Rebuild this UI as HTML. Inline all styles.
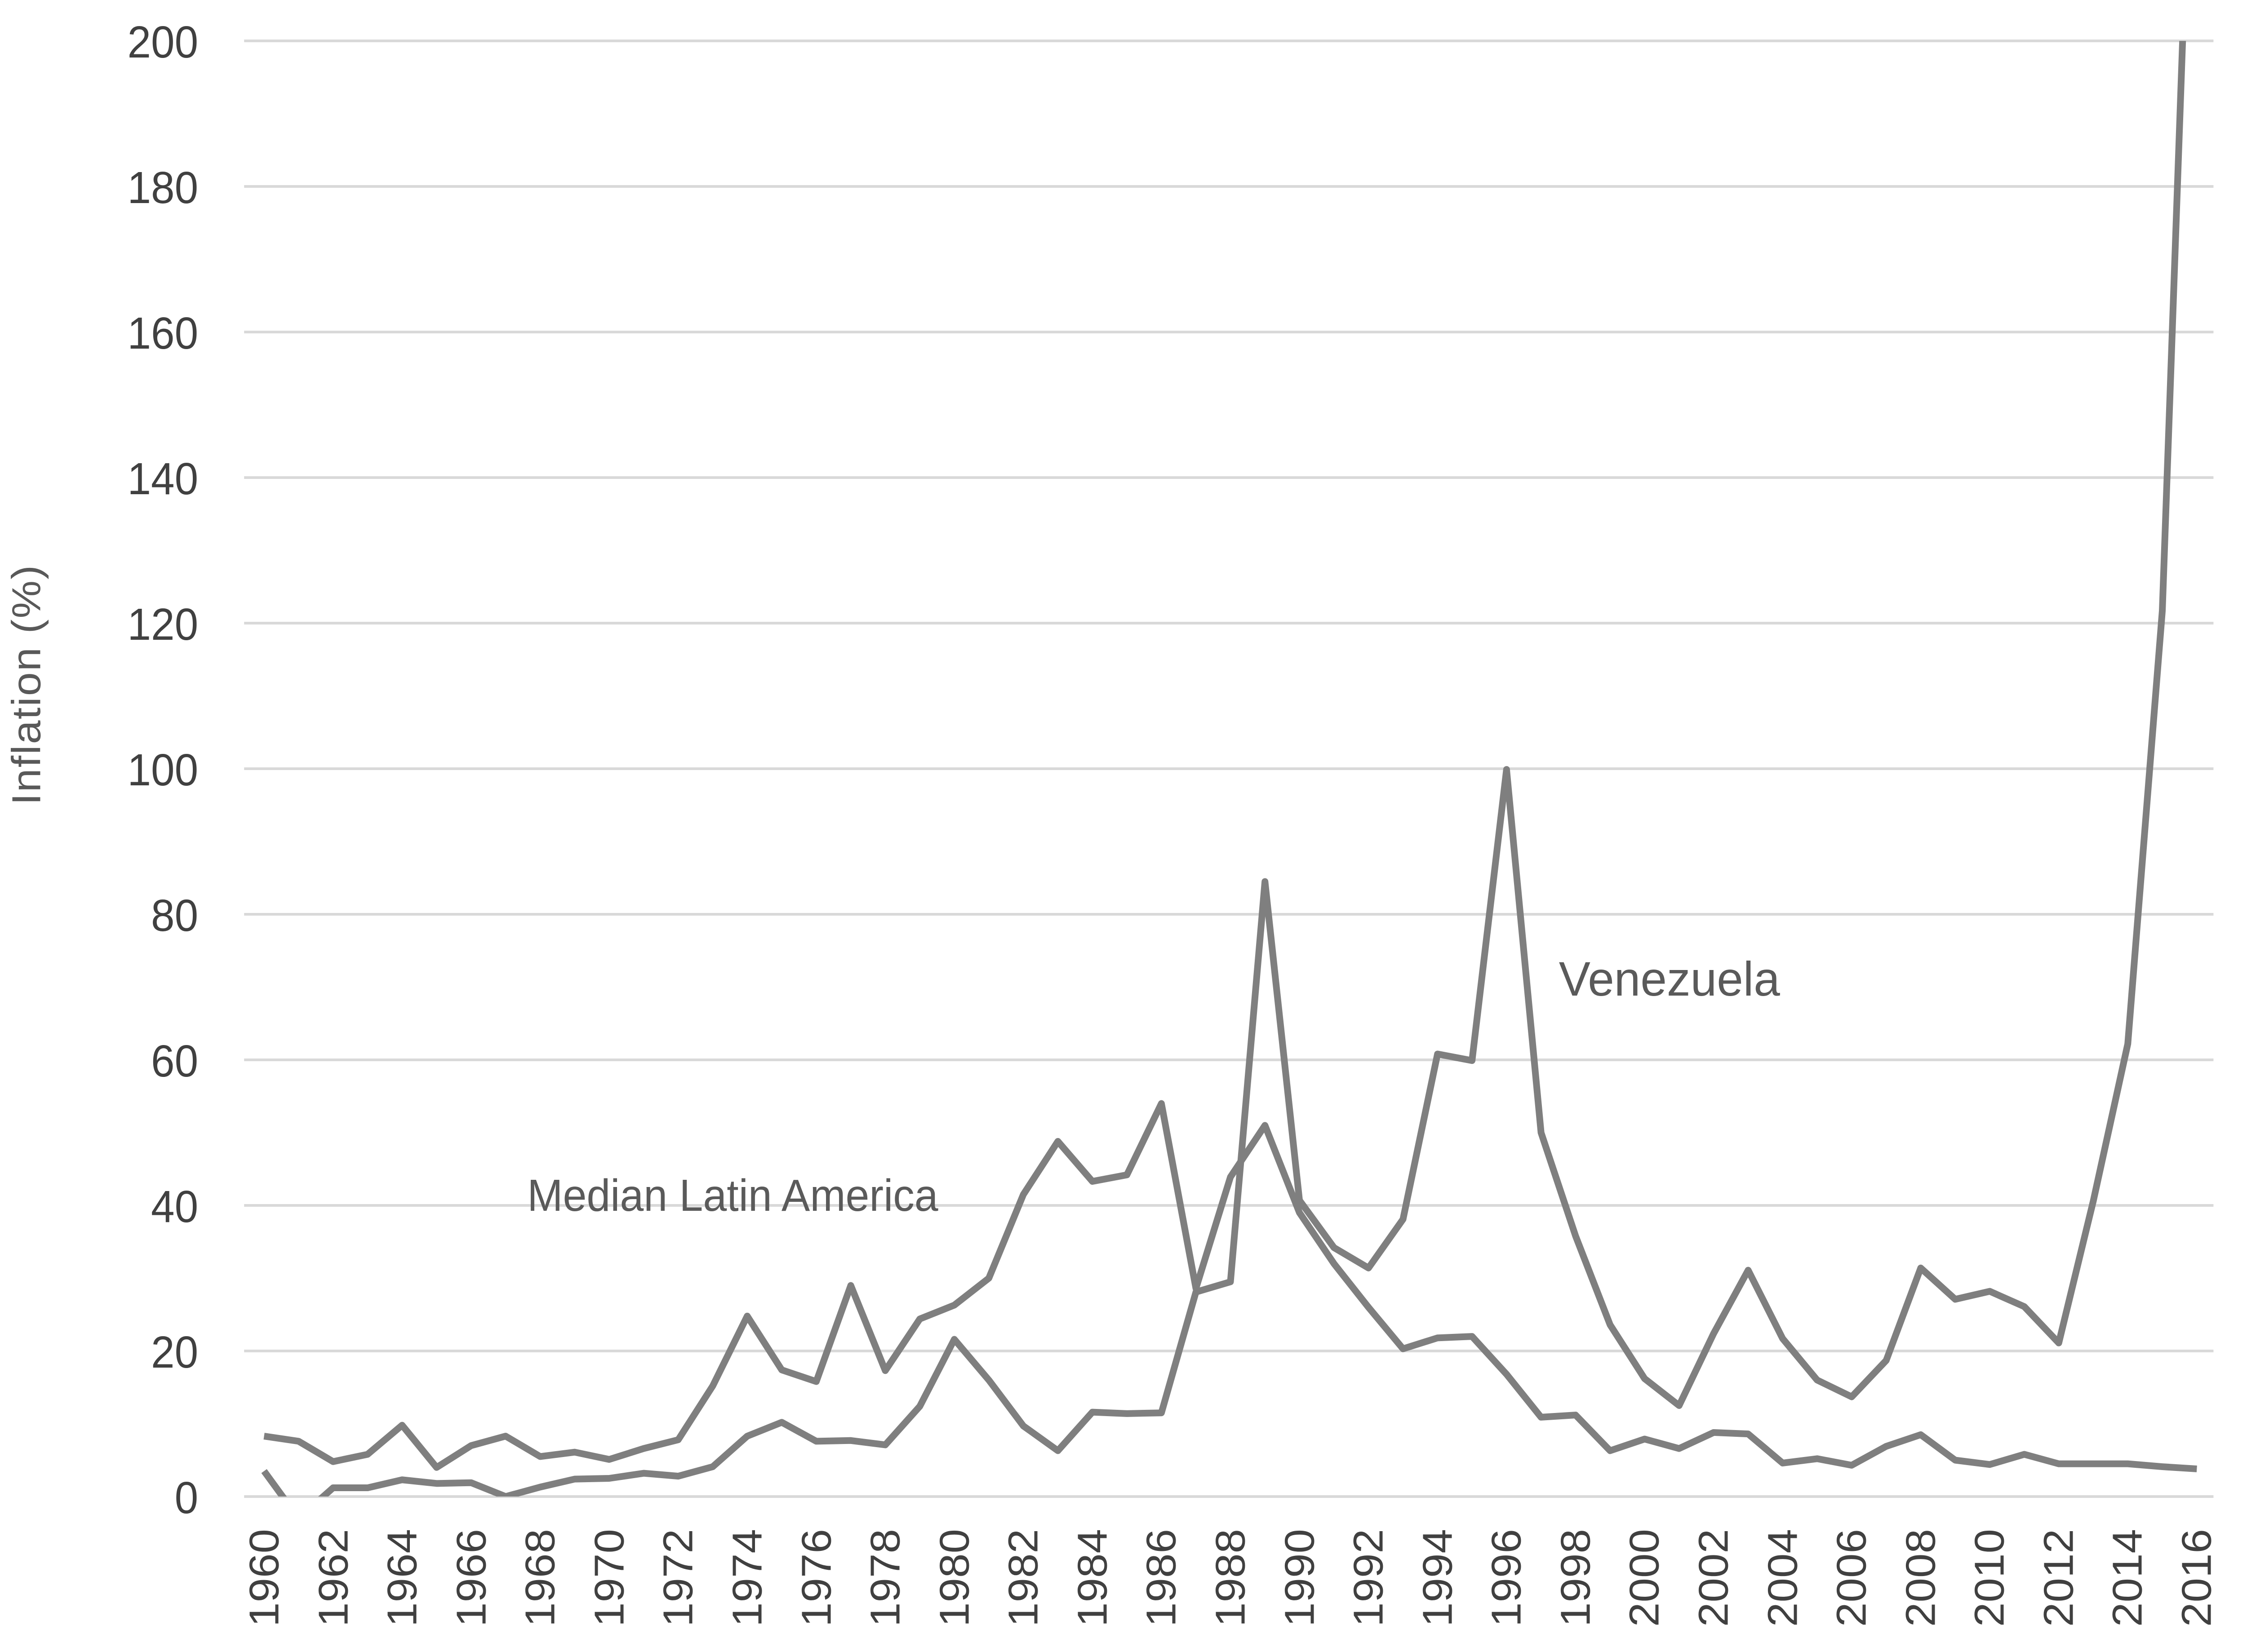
<!DOCTYPE html>
<html><head><meta charset="utf-8"><style>html,body{margin:0;padding:0;background:#fff;overflow:hidden;width:100vw;height:100vh}svg{display:block;width:100vw;height:100vh}</style></head>
<body>
<svg viewBox="0 0 5293 3677" preserveAspectRatio="none" xmlns="http://www.w3.org/2000/svg" font-family="'Liberation Sans', sans-serif">
<rect width="5293" height="3677" fill="#fff"/>
<g stroke="#d9d9d9" stroke-width="6">
<line x1="575" x2="5214" y1="91" y2="91"/><line x1="575" x2="5214" y1="415" y2="415"/>
<line x1="575" x2="5214" y1="739" y2="739"/><line x1="575" x2="5214" y1="1063" y2="1063"/>
<line x1="575" x2="5214" y1="1387" y2="1387"/><line x1="575" x2="5214" y1="1711" y2="1711"/>
<line x1="575" x2="5214" y1="2035" y2="2035"/><line x1="575" x2="5214" y1="2359" y2="2359"/>
<line x1="575" x2="5214" y1="2683" y2="2683"/><line x1="575" x2="5214" y1="3007" y2="3007"/>
<line x1="575" x2="5214" y1="3331" y2="3331"/>
</g>
<g fill="#404040" font-size="100" text-anchor="end">
<text x="467" y="128">200</text><text x="467" y="452">180</text><text x="467" y="776">160</text>
<text x="467" y="1100">140</text><text x="467" y="1424">120</text><text x="467" y="1748">100</text>
<text x="467" y="2072">80</text><text x="467" y="2396">60</text><text x="467" y="2720">40</text>
<text x="467" y="3044">20</text><text x="467" y="3368">0</text>
</g>
<text transform="translate(95,1525) rotate(-90)" font-size="95" fill="#595959" text-anchor="middle" textLength="534">Inflation (%)</text>
<g fill="#404040" font-size="98" text-anchor="end">
<text transform="translate(656,3403) rotate(-90)">1960</text>
<text transform="translate(819,3403) rotate(-90)">1962</text>
<text transform="translate(981,3403) rotate(-90)">1964</text>
<text transform="translate(1144,3403) rotate(-90)">1966</text>
<text transform="translate(1306,3403) rotate(-90)">1968</text>
<text transform="translate(1469,3403) rotate(-90)">1970</text>
<text transform="translate(1631,3403) rotate(-90)">1972</text>
<text transform="translate(1794,3403) rotate(-90)">1974</text>
<text transform="translate(1957,3403) rotate(-90)">1976</text>
<text transform="translate(2119,3403) rotate(-90)">1978</text>
<text transform="translate(2282,3403) rotate(-90)">1980</text>
<text transform="translate(2444,3403) rotate(-90)">1982</text>
<text transform="translate(2607,3403) rotate(-90)">1984</text>
<text transform="translate(2769,3403) rotate(-90)">1986</text>
<text transform="translate(2932,3403) rotate(-90)">1988</text>
<text transform="translate(3095,3403) rotate(-90)">1990</text>
<text transform="translate(3257,3403) rotate(-90)">1992</text>
<text transform="translate(3420,3403) rotate(-90)">1994</text>
<text transform="translate(3582,3403) rotate(-90)">1996</text>
<text transform="translate(3745,3403) rotate(-90)">1998</text>
<text transform="translate(3907,3403) rotate(-90)">2000</text>
<text transform="translate(4070,3403) rotate(-90)">2002</text>
<text transform="translate(4233,3403) rotate(-90)">2004</text>
<text transform="translate(4395,3403) rotate(-90)">2006</text>
<text transform="translate(4558,3403) rotate(-90)">2008</text>
<text transform="translate(4720,3403) rotate(-90)">2010</text>
<text transform="translate(4883,3403) rotate(-90)">2012</text>
<text transform="translate(5045,3403) rotate(-90)">2014</text>
<text transform="translate(5208,3403) rotate(-90)">2016</text>
</g>
<defs><clipPath id="c" clipPathUnits="userSpaceOnUse"><rect x="0" y="91" width="5293" height="3240"/></clipPath></defs>
<g clip-path="url(#c)">
<g transform="matrix(81.3 0 0 -16.2 622 3331)" fill="none" stroke="#7f7f7f" stroke-linejoin="round">
<polyline vector-effect="non-scaling-stroke" stroke-width="15" points="0,3.5 1,-3 2,1.2 3,1.2 4,2.3 5,1.8 6,1.9 7,0 8,1.3 9,2.4 10,2.5 11,3.2 12,2.8 13,4.1 14,8.3 15,10.2 16,7.6 17,7.7 18,7.1 19,12.4 20,21.6 21,16 22,9.7 23,6.3 24,11.6 25,11.4 26,11.5 27,28.1 28,29.5 29,84.5 30,40.7 31,34.2 32,31.4 33,38.1 34,60.8 35,59.9 36,99.9 37,50 38,35.8 39,23.6 40,16.2 41,12.5 42,22.4 43,31.1 44,21.7 45,16 46,13.7 47,18.7 48,31.4 49,27.1 50,28.2 51,26.1 52,21.1 53,40.6 54,62.2 55,121.7 56,254.9"/>
<polyline vector-effect="non-scaling-stroke" stroke-width="15" points="0,8.3 1,7.6 2,4.8 3,5.8 4,9.8 5,4 6,7 7,8.3 8,5.5 9,6.1 10,5.1 11,6.6 12,7.8 13,15.2 14,24.8 15,17.4 16,15.8 17,29 18,17.3 19,24.4 20,26.3 21,30 22,41.5 23,48.8 24,43.3 25,44.2 26,54 27,28.6 28,43.9 29,51 30,39 31,32 32,26 33,20.3 34,21.8 35,22 36,16.8 37,10.9 38,11.2 39,6.3 40,7.9 41,6.6 42,8.8 43,8.6 44,4.6 45,5.2 46,4.3 47,6.9 48,8.5 49,5 50,4.4 51,5.8 52,4.5 53,4.5 54,4.5 55,4.1 56,3.8"/>
</g>
</g>
<text x="3672" y="2216" font-size="108" fill="#5a5a5a" textLength="521" lengthAdjust="spacingAndGlyphs">Venezuela</text>
<text x="1242" y="2695" font-size="100" fill="#5a5a5a" textLength="968" lengthAdjust="spacingAndGlyphs">Median Latin America</text>
</svg>
</body></html>
